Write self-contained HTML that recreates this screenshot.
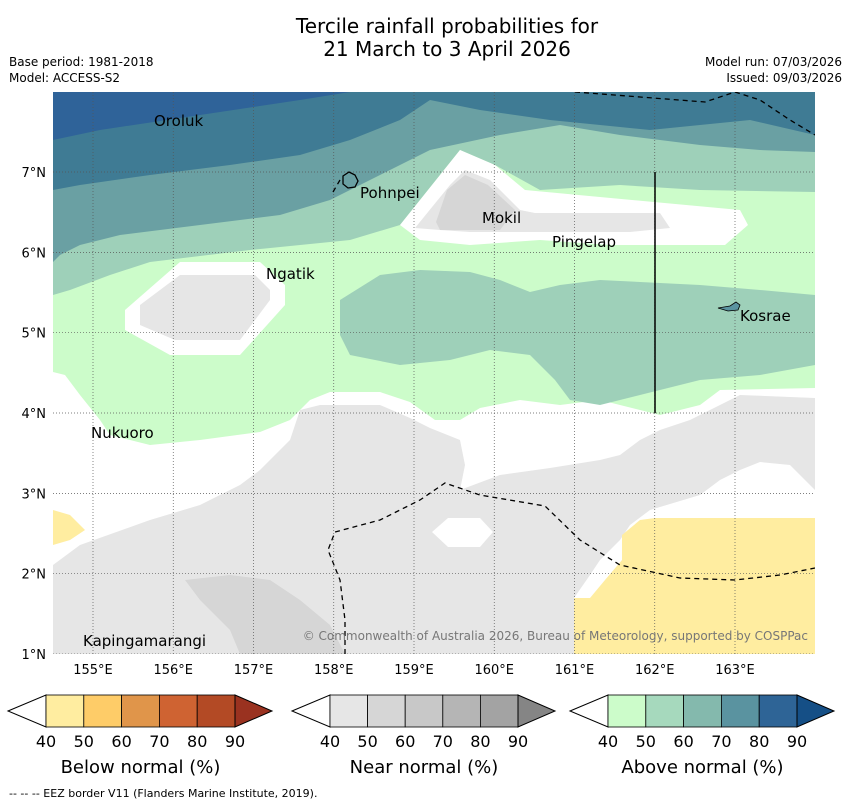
<!DOCTYPE html>
<html><head><meta charset="utf-8"><style>
body{margin:0;background:#fff;width:850px;height:804px;overflow:hidden;font-family:"Liberation Sans","DejaVu Sans",sans-serif;}
</style></head><body>
<svg id="chart" width="850" height="804" xmlns="http://www.w3.org/2000/svg" font-family="'DejaVu Sans','Liberation Sans',sans-serif">
<text x="447" y="33" font-size="20" text-anchor="middle">Tercile rainfall probabilities for</text>
<text x="447" y="56" font-size="20" text-anchor="middle">21 March to 3 April 2026</text>
<text x="9" y="66" font-size="12">Base period: 1981-2018</text>
<text x="9" y="82" font-size="12">Model: ACCESS-S2</text>
<text x="842" y="66" font-size="12" text-anchor="end">Model run: 07/03/2026</text>
<text x="842" y="82" font-size="12" text-anchor="end">Issued: 09/03/2026</text>
<defs><clipPath id="mapclip"><rect x="53" y="92" width="762" height="562"/></clipPath></defs>
<g clip-path="url(#mapclip)">
<rect x="53" y="92" width="762" height="562" fill="#fff"/>
<polygon fill="#ccfcca" points="53,92 815,92 815,388 720,390 700,405 660,415 640,410 600,400 560,405 520,400 480,408 460,420 435,420 410,402 380,392 330,392 310,400 290,420 260,432 200,440 150,445 110,435 100,420 80,395 65,375 53,372"/>
<polygon fill="#9ed0b9" points="53,92 815,92 815,192 700,190 620,185 540,190 495,165 460,150 400,225 350,240 250,250 150,262 110,275 70,290 53,295"/>
<polygon fill="#9ed0b9" points="340,300 380,275 420,270 470,272 500,280 530,292 560,285 600,280 700,285 760,290 815,295 815,365 760,375 700,380 640,395 600,405 570,400 555,380 530,355 490,350 450,360 400,365 350,355 340,335"/>
<polygon fill="#6aa0a3" points="53,92 815,92 815,152 760,150 700,145 620,135 560,125 500,135 430,150 380,175 330,200 280,215 200,225 120,235 80,245 60,255 53,262"/>
<polygon fill="#3f7b94" points="53,92 815,92 815,135 750,120 700,125 650,130 550,120 480,110 430,100 400,120 350,140 300,155 230,165 150,175 80,185 53,190"/>
<polygon fill="#2f6399" points="53,92 350,92 300,100 200,115 100,130 53,140"/>
<polygon fill="#fff" points="400,225 460,150 495,165 525,190 740,210 748,225 725,245 610,245 540,240 470,245 420,240"/>
<polygon fill="#e6e6e6" points="415,228 450,185 465,170 490,180 520,210 535,213 660,213 670,228 630,232 470,232 440,230"/>
<polygon fill="#d6d6d6" points="436,222 447,190 465,175 488,185 515,210 500,230 440,230"/>
<polygon fill="#fff" points="125,310 180,262 260,262 285,285 285,305 240,355 170,355 125,330"/>
<polygon fill="#e6e6e6" points="140,305 180,275 255,275 270,290 270,300 240,340 175,340 140,325"/>
<polygon fill="#e6e6e6" points="53,565 80,545 150,520 200,505 240,485 260,470 290,440 300,410 320,405 380,405 410,418 430,428 460,440 465,465 460,490 500,475 550,468 600,460 620,455 640,440 660,430 690,420 720,405 740,395 815,398 815,490 790,465 760,462 740,470 720,480 700,495 650,510 630,525 620,540 600,560 590,575 574,598 574,654 53,654"/>
<polygon fill="#d6d6d6" points="185,580 230,575 270,580 300,600 330,625 345,654 240,654 230,630 200,600"/>
<polygon fill="#fff" points="432,532 448,518 480,518 493,532 480,547 448,547"/>
<polygon fill="#ffeda0" points="622,535 640,520 655,518 815,518 815,654 574,654 574,598 590,598 605,580 622,560"/>
<polygon fill="#ffeda0" points="53,510 70,515 85,530 70,540 53,545"/>
<g id="grid" stroke="#555" stroke-width="0.7" stroke-dasharray="1,2"></g>
<g fill="none" stroke="#000" stroke-width="1.3" stroke-dasharray="5,4">
<polyline points="345,654 345,620 340,580 328,550 335,532 380,520 420,500 445,483 480,495 545,506 580,540 620,565 680,578 735,580 780,575 815,568"/>
<polyline points="575,92 640,97 705,102 735,92"/>
<polyline points="735,92 760,100 790,120 815,135"/>
<polyline points="333,192 340,180"/>
</g>
<line x1="655" y1="172" x2="655" y2="413" stroke="#000" stroke-width="1.5"/>
<path d="M343,176 l6,-4 6,3 3,6 -3,6 -7,1 -5,-4z" fill="none" stroke="#000" stroke-width="1.3"/>
<path d="M718,308 l12,-2 6,-4 4,3 -2,5 -10,1z" fill="#5a93a0" stroke="#000" stroke-width="0.8"/>
<g font-size="15" fill="#000">
<text x="154" y="126">Oroluk</text>
<text x="360" y="198">Pohnpei</text>
<text x="482" y="223">Mokil</text>
<text x="552" y="247">Pingelap</text>
<text x="266" y="279">Ngatik</text>
<text x="740" y="321">Kosrae</text>
<text x="91" y="438">Nukuoro</text>
<text x="83" y="646">Kapingamarangi</text>
</g>
<text x="808" y="640" font-size="12" fill="#777" text-anchor="end">© Commonwealth of Australia 2026, Bureau of Meteorology, supported by COSPPac</text>
</g>
<g id="ticks" font-size="13"></g>
<g id="cbars"></g>
<text x="9" y="797" font-size="11">--  --  -- EEZ border V11 (Flanders Marine Institute, 2019).</text>
</svg>
<script>
const lonTicks=[155,156,157,158,159,160,161,162,163];
const latTicks=[1,2,3,4,5,6,7];
const cbLabels=[40,50,60,70,80,90];
const cbTitles=["Below normal (%)","Near normal (%)","Above normal (%)"];
const belowColors=["#ffeda0","#fecc68","#e0954a","#cf6332","#b34a25","#9a3220"];
const nearColors=["#e6e6e6","#d6d6d6","#c8c8c8","#b5b5b5","#a3a3a3","#858585"];
const aboveColors=["#ccfcca","#a6d9bd","#84b9ad","#5a93a0","#2e6496","#154f86"];
const NS="http://www.w3.org/2000/svg";
const x=lon=>93+(lon-155)*80.25;
const y=lat=>654-(lat-1)*80.33;
const grid=document.getElementById('grid'),ticks=document.getElementById('ticks');
function mk(t,a,p){const e=document.createElementNS(NS,t);for(const k in a)e.setAttribute(k,a[k]);p.appendChild(e);return e;}
lonTicks.forEach(l=>{
 const g=mk('line',{x1:x(l),x2:x(l),y1:92,y2:654},grid);
 
 
 const t=mk('text',{x:x(l),y:674,'text-anchor':'middle'},ticks);t.textContent=l+'°E';
 
 
});
latTicks.forEach(l=>{
 const g=mk('line',{x1:53,x2:815,y1:y(l),y2:y(l)},grid);
 
 
 const t=mk('text',{x:46,y:y(l)+5,'text-anchor':'end'},ticks);t.textContent=l+'°N';
 
 
});
const cb=document.getElementById('cbars');
[[8,46,235,272,belowColors],[292,330,518,555,nearColors],[570,608,797,834,aboveColors]].forEach((c,i)=>{
 const [t0,b0,b1,t1,cols]=c, y0=695,y1=727,ym=711, w=(b1-b0)/5;
 const lt=mk('polygon',{points:`${t0},${ym} ${b0},${y0} ${b0},${y1}`,fill:'#fff',stroke:'#000','stroke-width':1},cb);
 
 
 for(let k=0;k<5;k++){
  const r=mk('rect',{x:b0+k*w,y:y0,width:w,height:y1-y0,fill:cols[k],stroke:'#000','stroke-width':0.8},cb);
  
  
 }
 const rt=mk('polygon',{points:`${b1},${y0} ${t1},${ym} ${b1},${y1}`,fill:cols[5],stroke:'#000','stroke-width':1},cb);
 
 
 cbLabels.forEach((v,k)=>{
  const t=mk('text',{x:b0+k*w,y:747,'text-anchor':'middle','font-size':16},cb);t.textContent=v;
  
  
 });
 const tt=mk('text',{x:(b0+b1)/2,y:773,'text-anchor':'middle','font-size':18},cb);tt.textContent=cbTitles[i];
 
 
});
</script>
</body></html>
